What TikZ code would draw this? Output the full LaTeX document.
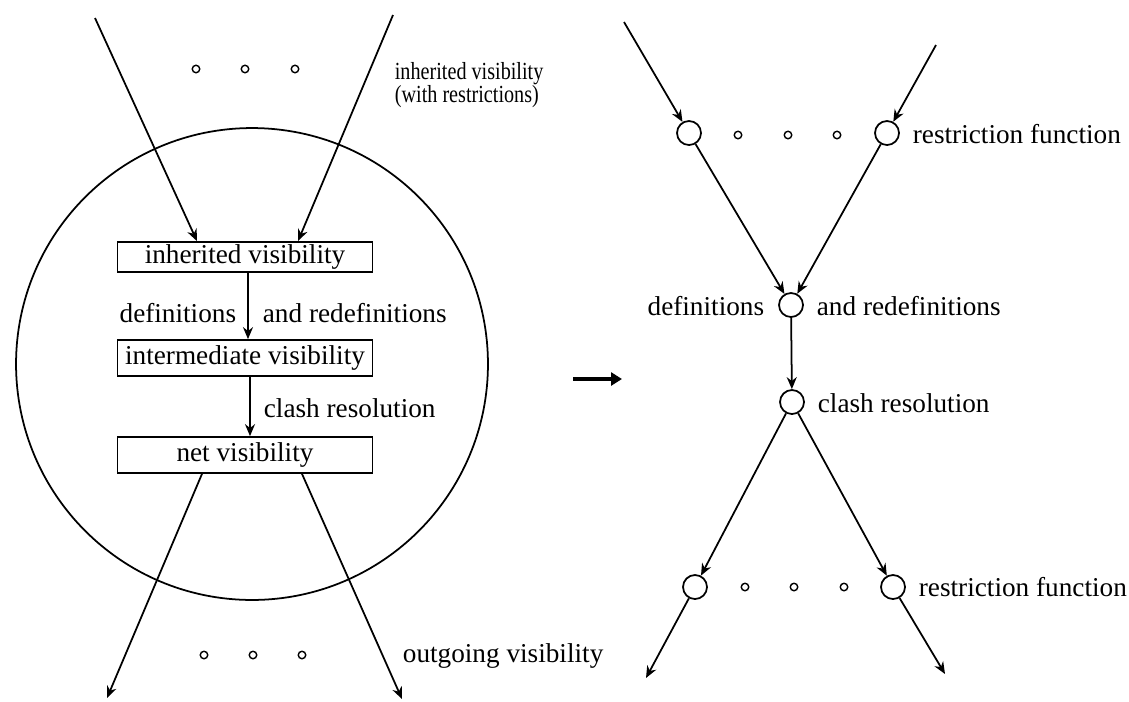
\documentclass[tikz,border=0pt]{standalone}
\usepackage{fontspec}
\setmainfont{Liberation Serif}
\usetikzlibrary{arrows.meta,calc}
\begin{document}
\begin{tikzpicture}[x=0.02cm,y=-0.02cm,
  font=\fontsize{15.5}{16}\selectfont,
  line width=1pt,
  arr/.style={-{Stealth[length=0.24cm,width=0.2cm]}},
  bigarr/.style={line width=2.4pt,-{Triangle[length=0.22cm,width=0.26cm]}},
  vbox/.style={draw,minimum width=5.1cm,inner sep=0pt},
  ring/.style={draw,circle,minimum size=0.48cm,inner sep=0pt},
  dot/.style={draw,circle,minimum size=0.15cm,inner sep=0pt,line width=0.8pt},
  lbl/.style={inner sep=0pt},
  narrow/.style={inner sep=0pt,align=left,font=\fontsize{14}{10.6}\selectfont}]
\useasboundingbox (0,0) rectangle (1129,701);

% ---------- left: visibility inside one unit ----------
\node[draw,circle,minimum size=9.44cm,inner sep=0pt] (unit) at (252,364) {};

\node[vbox,minimum height=0.6cm]  (ib) at (245,257) {inherited visibility};
\node[vbox,minimum height=0.72cm] (mb) at (245,358) {intermediate visibility};
\node[vbox,minimum height=0.72cm] (nb) at (245,455) {net visibility};

\draw[arr] ($(ib.south)+(3,0)$) -- ($(mb.north)+(3,0)$);
\draw[arr] ($(mb.south)+(5,0)$) -- ($(nb.north)+(5,0)$);

\node[lbl,anchor=base east] (ldef) at (237,322) {definitions};
\node[lbl,anchor=base west] (lred) at (262,322) {and redefinitions};
\node[lbl,anchor=base west] (lclash) at (263,417) {clash resolution};

% incoming visibility
\coordinate (inL) at (95,18);
\coordinate (inR) at (393,15);
\draw[arr] (inL) -- ($(ib.north)+(-48,0)$);
\draw[arr] (inR) -- ($(ib.north)+(53,0)$);
\node[dot] (ti1) at (196,69) {};
\node[dot] (ti2) at (245,69) {};
\node[dot] (ti3) at (295,69) {};
\node[narrow,anchor=base west] (inh) at (394,102)
  {\scalebox{0.82}[1]{inherited visibility}\\[-0.8pt]\scalebox{0.82}[1]{(with restrictions)}};

% outgoing visibility
\coordinate (outL) at (107,698);
\coordinate (outR) at (402,699);
\draw[arr] ($(nb.south)+(-43,0)$) -- (outL);
\draw[arr] ($(nb.south)+(57,0)$) -- (outR);
\node[dot] (to1) at (204,655) {};
\node[dot] (to2) at (253,655) {};
\node[dot] (to3) at (302,655) {};
\node[lbl,anchor=base west] (outl) at (402,662) {outgoing visibility};

% ---------- transformation arrow ----------
\coordinate (tA) at (573,379);
\coordinate (tB) at (622,379);
\draw[bigarr] (tA) -- (tB);

% ---------- right: the same as a graph of functions ----------
\node[ring] (r1) at (689,133) {};
\node[ring] (r2) at (887,133) {};
\node[dot] (rd1) at (738,135) {};
\node[dot] (rd2) at (788,135) {};
\node[dot] (rd3) at (837,135) {};
\node[lbl,anchor=base west] (rf1) at (912,143) {restriction function};

\node[ring] (def) at (791,305) {};
\node[lbl,anchor=base east] (rdef) at (765,315) {definitions};
\node[lbl,anchor=base west] (rred) at (816,315) {and redefinitions};

\node[ring] (cl) at (792,402) {};
\node[lbl,anchor=base west] (rclash) at (817,412) {clash resolution};

\node[ring] (s1) at (695,587) {};
\node[ring] (s2) at (893,587) {};
\node[dot] (sd1) at (745,587) {};
\node[dot] (sd2) at (794,587) {};
\node[dot] (sd3) at (844,587) {};
\node[lbl,anchor=base west] (rf2) at (918,596) {restriction function};

\coordinate (rinL) at (624,22);
\coordinate (rinR) at (936,45);
\coordinate (routL) at (646,678);
\coordinate (routR) at (945,674);

\draw[arr] (rinL) -- (r1);
\draw[arr] (rinR) -- (r2);
\draw[arr] (r1) -- (def);
\draw[arr] (r2) -- (def);
\draw[arr] (def) -- (cl);
\draw[arr] (cl) -- (s1);
\draw[arr] (cl) -- (s2);
\draw[arr] (s1) -- (routL);
\draw[arr] (s2) -- (routR);
\end{tikzpicture}
\end{document}
